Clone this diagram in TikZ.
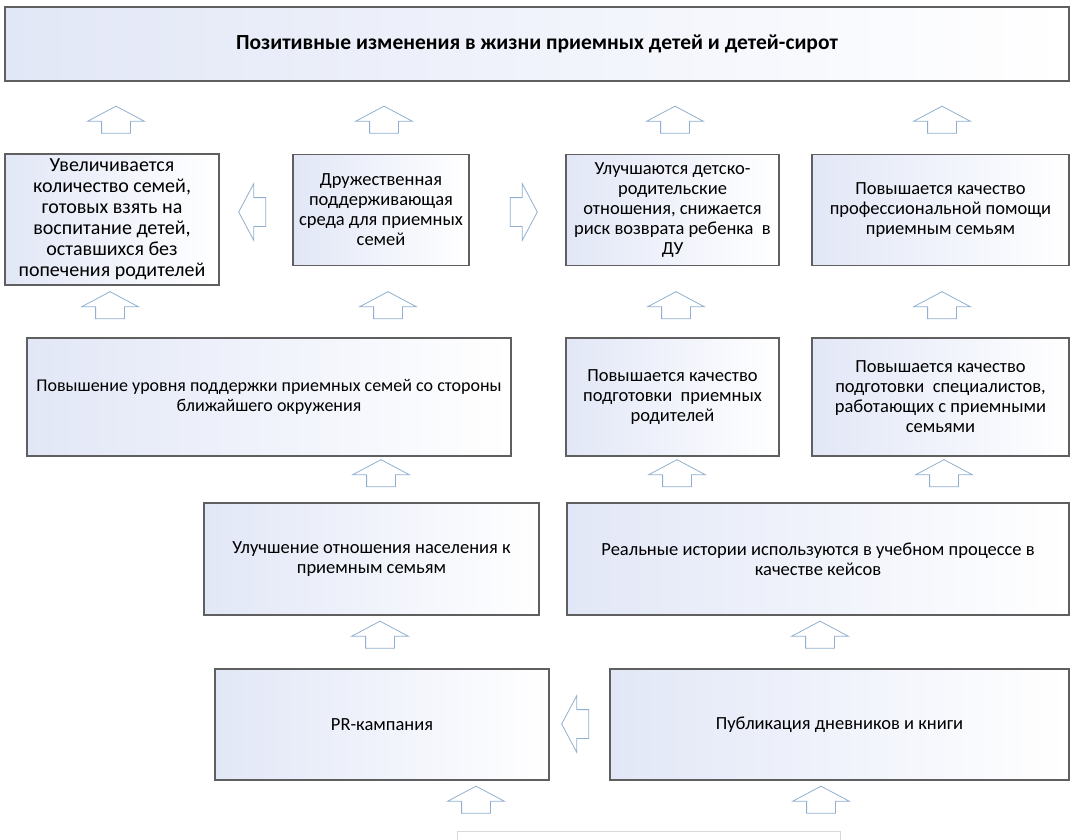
\documentclass[tikz,border=0pt]{standalone}
\usepackage{fontspec}
\setmainfont{Carlito}
\usetikzlibrary{shapes.arrows}
\definecolor{boxblue}{RGB}{226,231,247}
\definecolor{boxline}{RGB}{95,95,95}
\definecolor{arrowblue}{RGB}{145,176,208}
\tikzset{
    every node/.style={font=\fontsize{18.5}{20}\selectfont, align=center}
}
\tikzset{
    box/.style={draw=boxline, line width=1.2pt, left color=boxblue,
    	right color=white, inner sep=3pt}
}
\tikzset{
    blockarrow/.style={single arrow, draw=arrowblue, fill=white,
    	line width=0.8pt, inner xsep=0pt, inner ysep=14pt,
    	minimum width=0pt, minimum height=27pt,
    	single arrow head extend=14pt, single arrow tip angle=124}
}

\begin{document}
\begin{tikzpicture}[x=1pt,y=-1pt]
	\useasboundingbox (0,0) rectangle (1071,840);

	\node (goal) [box, minimum width=1064pt, minimum height=74pt] at (537,44)
		{\fontsize{21.5}{23}\selectfont\bfseries Позитивные изменения в жизни приемных детей и детей-сирот};

	\node (more) [box, minimum width=214pt, minimum height=131pt, font=\fontsize{20}{21}\selectfont] at (112,219.5)
		{Увеличивается\\количество семей,\\готовых взять на\\воспитание детей,\\оставшихся без\\попечения родителей};
	\node (env) [box, minimum width=176pt, minimum height=111pt] at (381,210)
		{Дружественная\\поддерживающая\\среда для приемных\\семей};
	\node (rel) [box, minimum width=213pt, minimum height=111pt] at (672.5,210)
		{Улучшаются детско-\\родительские\\отношения, снижается\\риск возврата ребенка~ в\\ДУ};
	\node (help) [box, minimum width=257pt, minimum height=111pt] at (940.5,210)
		{Повышается качество\\профессиональной помощи\\приемным семьям};

	\node (support) [box, minimum width=484pt, minimum height=118pt, font=\fontsize{18}{20}\selectfont] at (269,397)
		{Повышение уровня поддержки приемных семей со стороны\\ближайшего окружения};
	\node (parents) [box, minimum width=213pt, minimum height=118pt] at (672.5,397)
		{Повышается качество\\подготовки~ приемных\\родителей};
	\node (staff) [box, minimum width=257pt, minimum height=118pt] at (940.5,397)
		{Повышается качество\\подготовки~ специалистов,\\работающих с приемными\\семьями};

	\node (attitude) [box, minimum width=335pt, minimum height=112pt] at (371.5,559)
		{Улучшение отношения населения к\\приемным семьям};
	\node (cases) [box, minimum width=502pt, minimum height=112pt] at (818,559)
		{Реальные истории используются в учебном процессе в\\качестве кейсов};

	\node (pr) [box, minimum width=334pt, minimum height=111pt] at (382,724.5)
		{PR-кампания};
	\node (books) [box, minimum width=459pt, minimum height=111pt] at (839.5,724.5)
		{Публикация дневников и книги};

	\node (source) [draw=black!15, fill=white, minimum width=383pt,
		minimum height=40pt, anchor=north west] at (457,831) {};

	% arrows to the goal
	\node (g1) [blockarrow, rotate=90] at (116,123.5) {};
	\node (g2) [blockarrow, rotate=90] at (384,123.5) {};
	\node (g3) [blockarrow, rotate=90] at (675,123.5) {};
	\node (g4) [blockarrow, rotate=90] at (942,123.5) {};
	\node (s1) [blockarrow, rotate=180] at (256,212) {};
	\node (s2) [blockarrow] at (520,212) {};
	% second row
	\node (m1) [blockarrow, rotate=90] at (110,309) {};
	\node (m2) [blockarrow, rotate=90] at (388,309) {};
	\node (m3) [blockarrow, rotate=90] at (676,309) {};
	\node (m4) [blockarrow, rotate=90] at (942,309) {};
	% third row
	\node (n1) [blockarrow, rotate=90] at (381,477) {};
	\node (n2) [blockarrow, rotate=90] at (677,477) {};
	\node (n3) [blockarrow, rotate=90] at (944,477) {};
	% fourth row
	\node (p1) [blockarrow, rotate=90] at (380,638.5) {};
	\node (p2) [blockarrow, rotate=90] at (820,638.5) {};
	\node (p3) [blockarrow, rotate=180] at (579,724) {};
	% from the source
	\node (q1) [blockarrow, rotate=90] at (476,803.5) {};
	\node (q2) [blockarrow, rotate=90] at (821,803.5) {};
\end{tikzpicture}
\end{document}
